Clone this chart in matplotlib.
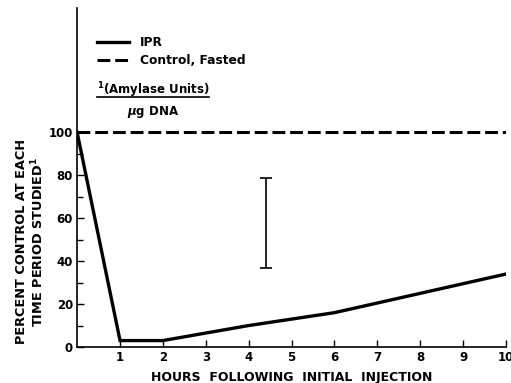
import numpy as np
import matplotlib.pyplot as plt
from matplotlib.lines import Line2D

hours = [0, 1, 2, 3, 4, 5, 6, 7, 8, 9, 10]
ipr = [100, 3, 3, 6.5, 10, 13, 16, 20.5, 25, 29.5, 34]
control_hours = [0, 10]
control = [100, 100]
err_x = 4.4
err_lo, err_hi = 37, 79

plt.rcParams['font.family'] = ['DejaVu Sans']
plt.rcParams['font.weight'] = 'bold'

fig = plt.figure(figsize=(5.11, 3.83), dpi=100)
ax = fig.add_axes([0.151, 0.094, 0.839, 0.885])

ax.plot(hours, ipr, color='black', lw=2.4, solid_joinstyle='miter')
ax.plot(control_hours, control, color='black', lw=2.2, dashes=(4.2, 1.6))
ax.errorbar([err_x], [(err_lo + err_hi) / 2], yerr=[[(err_hi - err_lo) / 2]],
            fmt='none', ecolor='black', elinewidth=1.2, capsize=4, capthick=1.2)

ax.set_xlim(0, 10)
ax.set_ylim(0, 158)
ax.spines['top'].set_visible(False)
ax.spines['right'].set_visible(False)
for s in ('left', 'bottom'):
    ax.spines[s].set_linewidth(1.2)

ax.set_xticks(range(1, 11))
ax.set_xticklabels([str(i) for i in range(1, 11)], fontsize=8.5, fontweight='bold')
ax.set_yticks(range(0, 101, 20))
ax.set_yticklabels([str(i) for i in range(0, 101, 20)], fontsize=8.5, fontweight='bold')
ax.set_yticks(range(10, 100, 20), minor=True)
ax.tick_params(axis='both', which='major', direction='in', length=5, width=1, pad=3)
ax.tick_params(axis='y', which='minor', direction='in', length=4, width=1)

ax.set_xlabel('HOURS  FOLLOWING  INITIAL  INJECTION', fontsize=9, fontweight='bold',
              labelpad=5)
ax.set_ylabel('PERCENT CONTROL AT EACH\nTIME PERIOD STUDIED$^1$', fontsize=9.3,
              fontweight='bold', linespacing=1.1)
ax.yaxis.set_label_coords(-0.072, 0.31)

handles = [Line2D([], [], color='black', lw=2.4),
           Line2D([], [], color='black', lw=2.2, dashes=(4.2, 1.6))]
ax.legend(handles, ['IPR', 'Control, Fasted'], loc='upper left',
          bbox_to_anchor=(0.02, 0.95), frameon=False, handlelength=2.6,
          handletextpad=0.9, labelspacing=0.45, prop={'size': 8.8, 'weight': 'bold'})

ax.text(0.177, 0.758, '$^1$(Amylase Units)', transform=ax.transAxes, ha='center',
        va='center', fontsize=8.5, fontweight='bold')
ax.plot([0.047, 0.308], [0.737, 0.737], transform=ax.transAxes, color='black', lw=1.2,
        clip_on=False)
ax.text(0.177, 0.693, '$\\mu$g DNA', transform=ax.transAxes, ha='center',
        va='center', fontsize=8.5, fontweight='bold')

fig.savefig('out.png', dpi=100)
